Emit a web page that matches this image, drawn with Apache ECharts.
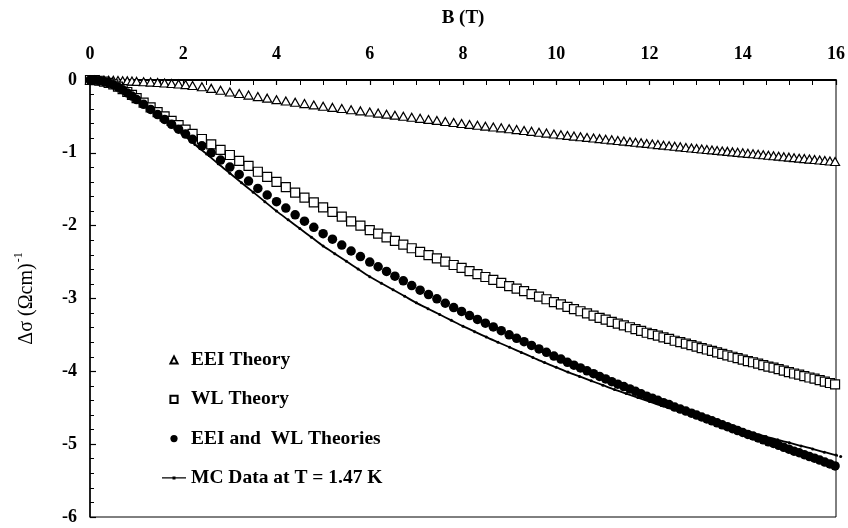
<!DOCTYPE html>
<html>
<head>
<meta charset="utf-8">
<script src="https://cdn.jsdelivr.net/npm/echarts@6/dist/echarts.min.js"></script>
<style>
  html, body { margin: 0; padding: 0; background: #fff; }
  #chart { width: 848px; height: 528px; }
</style>
</head>
<body>
<div id="chart"></div>
<script>
// Magnetic field (T) at which the theory curves are evaluated
const B_THEORY = [
  0, 0.1, 0.2, 0.3, 0.4, 0.5, 0.6, 0.7, 0.8, 0.9, 1.0,
  1.15, 1.3, 1.45, 1.6, 1.75, 1.9, 2.05, 2.2,
  2.4, 2.6, 2.8, 3.0, 3.2, 3.4, 3.6, 3.8, 4.0, 4.2, 4.4, 4.6, 4.8, 5.0, 5.2, 5.4, 5.6, 5.8, 6.0,
  6.18, 6.36, 6.54, 6.72, 6.9, 7.08, 7.26, 7.44, 7.62, 7.8,
  7.97, 8.14, 8.31, 8.48, 8.65, 8.82, 8.99,
  9.15, 9.31, 9.47, 9.63, 9.79, 9.95,
  10.1, 10.24, 10.38, 10.52, 10.66, 10.8,
  10.93, 11.06, 11.19, 11.32, 11.45, 11.58,
  11.7, 11.82, 11.94, 12.06, 12.18, 12.3, 12.42, 12.54, 12.66, 12.78, 12.9,
  13.01, 13.12, 13.23, 13.34, 13.45, 13.56, 13.67, 13.78, 13.89, 14.0,
  14.11, 14.22, 14.33, 14.44, 14.55, 14.66, 14.77, 14.88, 14.99, 15.1,
  15.21, 15.32, 15.43, 15.54, 15.65, 15.76, 15.87, 15.98
];

// Electron-electron interaction contribution
const EEI = [
  0, 0, -0.001, -0.002, -0.003, -0.005, -0.007, -0.009, -0.012, -0.015, -0.019,
  -0.024, -0.029, -0.035, -0.041, -0.048, -0.055, -0.063, -0.075,
  -0.093, -0.115, -0.14, -0.165, -0.186, -0.207, -0.228, -0.249, -0.27, -0.288, -0.306, -0.324, -0.342, -0.36, -0.376, -0.392, -0.408, -0.424, -0.44,
  -0.454, -0.469, -0.483, -0.498, -0.512, -0.526, -0.541, -0.555, -0.57, -0.584,
  -0.598, -0.61, -0.622, -0.634, -0.646, -0.657, -0.669,
  -0.681, -0.693, -0.705, -0.717, -0.729, -0.741,
  -0.752, -0.761, -0.77, -0.779, -0.788, -0.797,
  -0.805, -0.814, -0.822, -0.831, -0.839, -0.847,
  -0.855, -0.863, -0.871, -0.879, -0.887, -0.895, -0.902, -0.91, -0.918, -0.926, -0.934,
  -0.941, -0.947, -0.954, -0.96, -0.967, -0.974, -0.98, -0.987, -0.993, -1.0,
  -1.007, -1.013, -1.02, -1.026, -1.033, -1.04, -1.046, -1.053, -1.059, -1.066,
  -1.073, -1.079, -1.086, -1.092, -1.099, -1.106, -1.112, -1.119
];

// Weak-localization contribution
const WL = [
  0, -0.002, -0.01, -0.022, -0.04, -0.06, -0.09, -0.125, -0.165, -0.205, -0.25,
  -0.31, -0.375, -0.44, -0.50, -0.56, -0.62, -0.68, -0.74,
  -0.81, -0.885, -0.96, -1.03, -1.11, -1.18, -1.26, -1.33, -1.40, -1.47, -1.545, -1.615, -1.68, -1.75, -1.81, -1.875, -1.94, -2.0, -2.06,
  -2.11, -2.16, -2.21, -2.26, -2.31, -2.36, -2.405, -2.45, -2.495, -2.54,
  -2.58, -2.625, -2.665, -2.705, -2.745, -2.785, -2.83,
  -2.865, -2.9, -2.94, -2.975, -3.01, -3.05,
  -3.08, -3.115, -3.145, -3.175, -3.205, -3.235,
  -3.265, -3.29, -3.32, -3.345, -3.37, -3.395,
  -3.42, -3.445, -3.47, -3.49, -3.51, -3.535, -3.555, -3.58, -3.6, -3.62, -3.64,
  -3.66, -3.68, -3.70, -3.72, -3.74, -3.76, -3.78, -3.80, -3.82, -3.84,
  -3.86, -3.875, -3.895, -3.915, -3.935, -3.95, -3.97, -3.99, -4.01, -4.03,
  -4.045, -4.065, -4.085, -4.1, -4.12, -4.14, -4.16, -4.18
];

// Combined EEI + WL prediction
const EEI_WL = [
  0, -0.002, -0.011, -0.024, -0.043, -0.065, -0.097, -0.134, -0.177, -0.22, -0.269,
  -0.334, -0.404, -0.475, -0.541, -0.608, -0.675, -0.743, -0.815,
  -0.903, -1.0, -1.1, -1.195, -1.296, -1.387, -1.488, -1.579, -1.67, -1.758, -1.851, -1.939, -2.022, -2.11, -2.186, -2.267, -2.348, -2.424, -2.5,
  -2.564, -2.629, -2.693, -2.758, -2.822, -2.886, -2.946, -3.005, -3.065, -3.124,
  -3.178, -3.235, -3.287, -3.339, -3.391, -3.442, -3.499,
  -3.546, -3.593, -3.645, -3.692, -3.739, -3.791,
  -3.832, -3.876, -3.915, -3.954, -3.993, -4.032,
  -4.07, -4.104, -4.142, -4.176, -4.209, -4.242,
  -4.275, -4.308, -4.341, -4.369, -4.397, -4.43, -4.457, -4.49, -4.518, -4.546, -4.574,
  -4.601, -4.627, -4.654, -4.68, -4.707, -4.734, -4.76, -4.787, -4.813, -4.84,
  -4.867, -4.888, -4.915, -4.941, -4.968, -4.99, -5.016, -5.043, -5.069, -5.096,
  -5.118, -5.144, -5.171, -5.192, -5.219, -5.246, -5.272, -5.299
];

// Measured magnetoconductance at T = 1.47 K
const B_MC = [
  0, 0.25, 0.5, 0.75, 1, 1.25, 1.5, 1.75, 2, 2.25, 2.5, 2.75, 3, 3.25, 3.5, 3.75,
  4, 4.25, 4.5, 4.75, 5, 5.25, 5.5, 5.75, 6, 6.25, 6.5, 6.75, 7, 7.25, 7.5, 7.75,
  8, 8.25, 8.5, 8.75, 9, 9.25, 9.5, 9.75, 10, 10.25, 10.5, 10.75, 11, 11.25, 11.5, 11.75,
  12, 12.25, 12.5, 12.75, 13, 13.25, 13.5, 13.75, 14, 14.25, 14.5, 14.75, 15, 15.25, 15.5, 15.75, 16, 16.1
];
const MC = [
  0, -0.015, -0.06, -0.15, -0.28, -0.39, -0.51, -0.63, -0.75, -0.885, -1.015, -1.15, -1.28, -1.41, -1.54, -1.67,
  -1.80, -1.92, -2.04, -2.16, -2.28, -2.385, -2.49, -2.595, -2.70, -2.79, -2.88, -2.97, -3.06, -3.14, -3.22, -3.30,
  -3.38, -3.455, -3.53, -3.60, -3.67, -3.74, -3.81, -3.88, -3.945, -4.01, -4.07, -4.13, -4.19, -4.25, -4.305, -4.36,
  -4.415, -4.47, -4.52, -4.57, -4.62, -4.67, -4.715, -4.765, -4.81, -4.855, -4.895, -4.94, -4.98, -5.025, -5.065, -5.11, -5.15, -5.17
];

const SERIES_NAMES = ['EEI Theory', 'WL Theory', 'EEI and  WL Theories', 'MC Data at T = 1.47 K'];
const X_NAME = 'B (T)';

const SERIF = '"Liberation Serif", "Times New Roman", serif';

function pairs(xs, ys) {
  return xs.map(function (x, i) { return [x, ys[i]]; });
}

const chart = echarts.init(document.getElementById('chart'), null, { renderer: 'canvas' });

// legend icon for the measured curve: thin line with a small dot, corners pin the box
const MC_ICON = 'path://M0,0L0.01,0L0,0.01Z M24,9L23.99,9L24,8.99Z ' +
  'M0,3.8L10.5,3.8L10.5,3L13.5,3L13.5,3.8L24,3.8L24,5.2L13.5,5.2L13.5,6L10.5,6L10.5,5.2L0,5.2Z';

const option = {
  animation: false,
  backgroundColor: '#fff',
  grid: {
    left: 90, right: 11, top: 80, bottom: 11,
    show: true, borderColor: '#000', borderWidth: 1, backgroundColor: 'transparent'
  },
  legend: {
    orient: 'vertical',
    left: 162, top: 350,
    padding: 0,
    itemWidth: 24, itemHeight: 9,
    itemGap: 19.3,
    textStyle: { fontFamily: SERIF, fontWeight: 'bold', fontSize: 19.5, color: '#000', lineHeight: 20 },
    data: [
      { name: SERIES_NAMES[0] },
      { name: SERIES_NAMES[1] },
      { name: SERIES_NAMES[2] },
      { name: SERIES_NAMES[3], icon: MC_ICON, itemStyle: { color: '#000', borderWidth: 0 } }
    ]
  },
  xAxis: {
    type: 'value',
    position: 'top',
    min: 0, max: 16, interval: 2,
    name: X_NAME,
    nameLocation: 'middle',
    nameGap: 52,
    nameTextStyle: { fontFamily: SERIF, fontWeight: 'bold', fontSize: 19, color: '#000' },
    axisLine: { show: true, onZero: false, lineStyle: { color: '#000', width: 2 } },
    axisTick: { show: true, inside: true, length: 5, lineStyle: { color: '#000', width: 1.2 } },
    minorTick: { show: true, splitNumber: 4, length: 5, lineStyle: { color: '#000', width: 1 } },
    axisLabel: { margin: 17, fontFamily: SERIF, fontWeight: 'bold', fontSize: 18, color: '#000' },
    splitLine: { show: false }
  },
  yAxis: {
    type: 'value',
    min: -6, max: 0, interval: 1,
    name: '{a|Δσ (Ωcm)}{s|-1}',
    nameLocation: 'middle',
    nameGap: 53,
    nameRotate: 90,
    nameTextStyle: {
      color: '#000',
      rich: {
        a: { fontFamily: SERIF, fontSize: 20, color: '#000', lineHeight: 24, verticalAlign: 'bottom' },
        s: { fontFamily: SERIF, fontSize: 12, color: '#000', lineHeight: 24, verticalAlign: 'top', padding: [0, 0, 0, 1] }
      }
    },
    axisLine: { show: true, onZero: false, lineStyle: { color: '#000', width: 1.5 } },
    axisTick: { show: true, inside: true, length: 6, lineStyle: { color: '#000', width: 1.2 } },
    minorTick: { show: true, splitNumber: 5, length: 4, lineStyle: { color: '#000', width: 1 } },
    axisLabel: { margin: 13, fontFamily: SERIF, fontWeight: 'bold', fontSize: 18, color: '#000' },
    splitLine: { show: false }
  },
  series: [
    {
      name: SERIES_NAMES[0],
      type: 'line',
      data: pairs(B_THEORY, EEI),
      symbol: 'triangle',
      symbolSize: [9, 8],
      showAllSymbol: true,
      lineStyle: { width: 0, opacity: 0 },
      itemStyle: { color: '#fff', borderColor: '#000', borderWidth: 1.2 },
      z: 2
    },
    {
      name: SERIES_NAMES[1],
      type: 'line',
      data: pairs(B_THEORY, WL),
      symbol: 'rect',
      symbolSize: 9,
      showAllSymbol: true,
      lineStyle: { width: 0, opacity: 0 },
      itemStyle: { color: '#fff', borderColor: '#000', borderWidth: 1.2 },
      z: 3
    },
    {
      name: SERIES_NAMES[2],
      type: 'line',
      data: pairs(B_THEORY, EEI_WL),
      symbol: 'circle',
      symbolSize: 9.5,
      showAllSymbol: true,
      lineStyle: { width: 0, opacity: 0 },
      itemStyle: { color: '#000', borderColor: '#000', borderWidth: 0 },
      z: 4
    },
    {
      name: SERIES_NAMES[3],
      type: 'line',
      data: pairs(B_MC, MC),
      symbol: 'circle',
      symbolSize: 3,
      showAllSymbol: true,
      smooth: 0.3,
      clip: false,
      lineStyle: { color: '#000', width: 1.8 },
      itemStyle: { color: '#000' },
      z: 5
    }
  ]
};

chart.setOption(option);
</script>
</body>
</html>
